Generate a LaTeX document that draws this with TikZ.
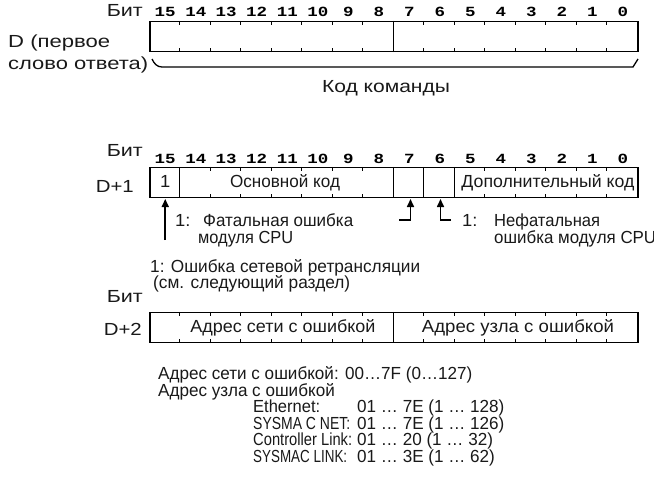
\documentclass[tikz,border=0pt]{standalone}
\usepackage{fontspec}
\usepackage{graphicx}
\setmainfont[FakeStretch=1.05]{Liberation Sans}
\newfontfamily\bitfont[FakeStretch=1.25]{Liberation Mono}
\usetikzlibrary{calc,arrows.meta}
\newcommand\fw[2]{\resizebox{#1}{\height}{#2}}
\newcommand\nar[1]{\scalebox{0.93}[1]{#1}}
\tikzset{
  lbl/.style={inner sep=0pt, font=\fontsize{17.5}{17.5}\selectfont, text=black!90, text height=11pt, text depth=2pt},
  lblw/.style={lbl, anchor=west},
  lble/.style={lbl, anchor=east},
  bitnum/.style={inner sep=0pt, font=\bitfont\bfseries\fontsize{14}{14}\selectfont},
  wordbox/.style={draw, line width=1.4pt, minimum width=488pt, minimum height=30pt, inner sep=0pt},
  tickmark/.style={line width=1.1pt},
  divider/.style={line width=1.3pt},
  arr/.style={line width=1.6pt, -{Triangle[length=8pt,width=7pt]}},
  bracket/.style={line width=1.3pt}
}
\begin{document}
\begin{tikzpicture}[x=1pt,y=-1pt]
\useasboundingbox (0,0) rectangle (654,501);

% ---------- word D ----------
\node[lble] (bit1) at (143,12) {\fw{36pt}{Бит}};
\foreach \i in {0,...,15} \node[bitnum] (ba\i) at ({150+(15-\i+0.5)*30.5},12) {\i};
\node[wordbox] (w1) at (394,36.5) {};
\foreach \k in {1,...,15} {
  \draw[tickmark] ($(w1.north west)+(\k*30.5,0)$) -- ++(0,4);
  \draw[tickmark] ($(w1.south west)+(\k*30.5,0)$) -- ++(0,-4);
}
\draw[divider] ($(w1.north west)+(8*30.5,0)$) -- ($(w1.south west)+(8*30.5,0)$);
\node[lblw] (d0a) at (8,43) {\fw{102pt}{D (первое}};
\node[lblw] (d0b) at (8,65) {\fw{140pt}{слово ответа)}};
\coordinate (brL) at (152,59);
\coordinate (brR) at (638,59);
\draw[bracket] (brL) to[out=-65,in=180] (162,67) -- (633,67) -- (brR);
\node[lbl] (cmd) at (386,88) {\fw{128pt}{Код команды}};

% ---------- word D+1 ----------
\node[lble] (bit2) at (143,152) {\fw{36pt}{Бит}};
\foreach \i in {0,...,15} \node[bitnum] (bb\i) at ({150+(15-\i+0.5)*30.5},159) {\i};
\node[wordbox] (w2) at (394,182.5) {};
\foreach \k in {2,...,7,11,12,13,14,15} {
  \draw[tickmark] ($(w2.north west)+(\k*30.5,0)$) -- ++(0,4);
  \draw[tickmark] ($(w2.south west)+(\k*30.5,0)$) -- ++(0,-4);
}
\foreach \k in {1,8,9,10}
  \draw[divider] ($(w2.north west)+(\k*30.5,0)$) -- ($(w2.south west)+(\k*30.5,0)$);
\node[lble] (d1) at (134,188) {\fw{38pt}{D+1}};
\node[lbl] (one) at (165.25,182.5) {1};
\node[lbl] (main) at (285,182.5) {\fw{110pt}{Основной код}};
\node[lbl] (aux) at (548,182.5) {\fw{173pt}{Дополнительный код}};

\coordinate (t15) at (165.25,199);
\coordinate (s15) at (165.25,240);
\draw[arr] (s15) -- (t15);
\coordinate (t7) at (410.5,199);
\coordinate (s7) at (399,220);
\draw[arr] (s7) -| (t7);
\coordinate (t6) at (440.5,199);
\coordinate (s6) at (451,220);
\draw[arr] (s6) -| (t6);

\node[lblw] (f1) at (175,222) {1:};
\node[lblw] (f2) at (203,222) {\fw{150pt}{Фатальная ошибка}};
\node[lblw] (f3) at (198,239) {\fw{95pt}{модуля CPU}};
\node[lblw] (n1) at (462,222) {1:};
\node[lblw] (n2) at (494,222) {\fw{106pt}{Нефатальная}};
\node[lblw] (n3) at (494,239) {\fw{162pt}{ошибка модуля CPU}};
\node[lblw] (r1) at (150,268) {\fw{270pt}{1: Ошибка сетевой ретрансляции}};
\node[lblw] (r2) at (153,284) {\fw{197pt}{(см. следующий раздел)}};

% ---------- word D+2 ----------
\node[lble] (bit3) at (143,298) {\fw{36pt}{Бит}};
\node[wordbox] (w3) at (394,327.5) {};
\foreach \k in {1,...,7,9,10,11,12,13,14,15} {
  \draw[tickmark] ($(w3.north west)+(\k*30.5,0)$) -- ++(0,4);
  \draw[tickmark] ($(w3.south west)+(\k*30.5,0)$) -- ++(0,-4);
}
\draw[divider] ($(w3.north west)+(8*30.5,0)$) -- ($(w3.south west)+(8*30.5,0)$);
\node[lble] (d2) at (142,331) {\fw{38pt}{D+2}};
\node[lbl] (net) at (283,327.5) {\fw{185pt}{Адрес сети с ошибкой}};
\node[lbl] (node) at (518,327.5) {\fw{192pt}{Адрес узла с ошибкой}};

% ---------- notes ----------
\node[lblw] (m1) at (158,375) {\nar{Адрес сети с ошибкой: 00…7F (0…127)}};
\node[lblw] (m2) at (158,392) {\nar{Адрес узла с ошибкой}};
\node[lblw] (e1) at (253,408) {\fw{67pt}{Ethernet:}};
\node[lblw] (e2) at (253,425) {\fw{97pt}{SYSMA C NET:}};
\node[lblw] (e3) at (253,441) {\fw{99pt}{Controller Link:}};
\node[lblw] (e4) at (253,458) {\fw{94pt}{SYSMAC LINK:}};
\node[lblw] (v1) at (357,408) {\nar{01 … 7E (1 … 128)}};
\node[lblw] (v2) at (357,425) {\nar{01 … 7E (1 … 126)}};
\node[lblw] (v3) at (357,441) {\nar{01 … 20 (1 … 32)}};
\node[lblw] (v4) at (357,458) {\nar{01 … 3E (1 … 62)}};
\end{tikzpicture}
\end{document}
